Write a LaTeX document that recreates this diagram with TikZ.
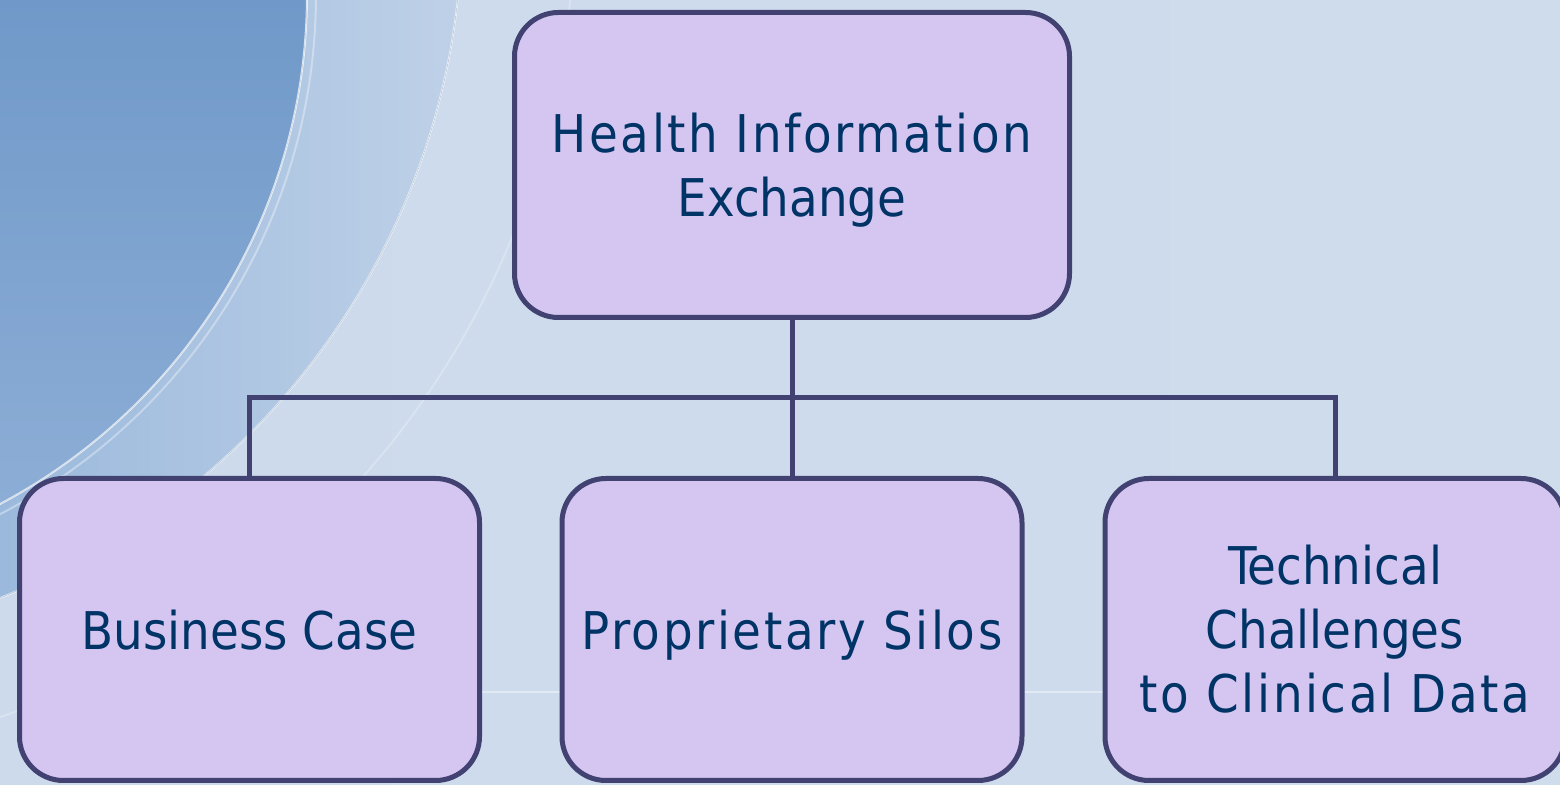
\documentclass[tikz,border=0pt]{standalone}
\usepackage{fontspec}
\setmainfont{DejaVu Sans Condensed}
\newfontfamily\widefont[LetterSpace=5]{DejaVu Sans Condensed}
\usepackage{tikz}

\definecolor{edge}{HTML}{414172}
\definecolor{boxfill}{HTML}{D4C6F0}
\definecolor{ink}{HTML}{003366}
\definecolor{bgleft}{HTML}{CCDAEC}
\definecolor{bgmid}{HTML}{E3EAF3}
\definecolor{bgright}{HTML}{CFDCEC}
\definecolor{bandl}{HTML}{9BB9DC}
\definecolor{bandr}{HTML}{C6D6EA}
\definecolor{darktop}{HTML}{7099C9}
\definecolor{darkbot}{HTML}{8DAED6}

\begin{document}
\begin{tikzpicture}[x=0.5pt, y=-0.5pt,
    box/.style={draw=edge, fill=boxfill, line width=2.5pt, rounded corners=22pt,
      text=ink, inner sep=0pt, align=center,
      font=\fontsize{26pt}{32pt}\selectfont},
    topbox/.style={box, minimum width=277.5pt, minimum height=152.5pt},
    leafbox/.style={box, minimum width=230pt, minimum height=151pt},
    link/.style={draw=edge, line width=2.5pt}]

  % background
  \useasboundingbox (0,0) rectangle (1560,785);
  \fill[left color=bgleft, middle color=bgmid, right color=bgright] (0,0) rectangle (1560,785);

  \begin{scope}
    \clip (-266,-80) circle[radius=728];
    \fill[left color=bandl, right color=bandr] (0,0) rectangle (560,785);
  \end{scope}
  \begin{scope}
    \clip (-270,-6) circle[radius=577];
    \fill[top color=darktop, bottom color=darkbot] (0,0) rectangle (320,520);
  \end{scope}

  \draw[white, opacity=0.7, line width=1pt] (-270,-6) circle[radius=577];
  \draw[white, opacity=0.35, line width=1pt] (-270,-6) circle[radius=586];
  \draw[white, opacity=0.5, line width=1pt] (-266,-80) circle[radius=728];
  \draw[white, opacity=0.25, line width=1pt] (-266,-80) circle[radius=840];
  \draw[white, opacity=0.4, line width=1pt] (480,692) -- (1110,692);

  % boxes
  \node[topbox, text depth=0pt] (hie) at (792,165) {{\widefont Health Information}\\Exchange};

  \node[leafbox, text depth=0pt] (bcase) at (249.5,629.5) {Business Case};
  \node[leafbox, text depth=0pt] (psilos) at (792,629.5) {{\widefont Proprietary Silos}};
  \node[leafbox] (tech) at (1335,629.5) {Technical\\Challenges\\{\widefont to Clinical Data}};

  % connectors
  \coordinate (bus) at (792,398);
  \draw[link] (hie.south) -- (psilos.north);
  \draw[link] (bcase.north) |- (bus) -| (tech.north); %% tree bar
\end{tikzpicture}
\end{document}
